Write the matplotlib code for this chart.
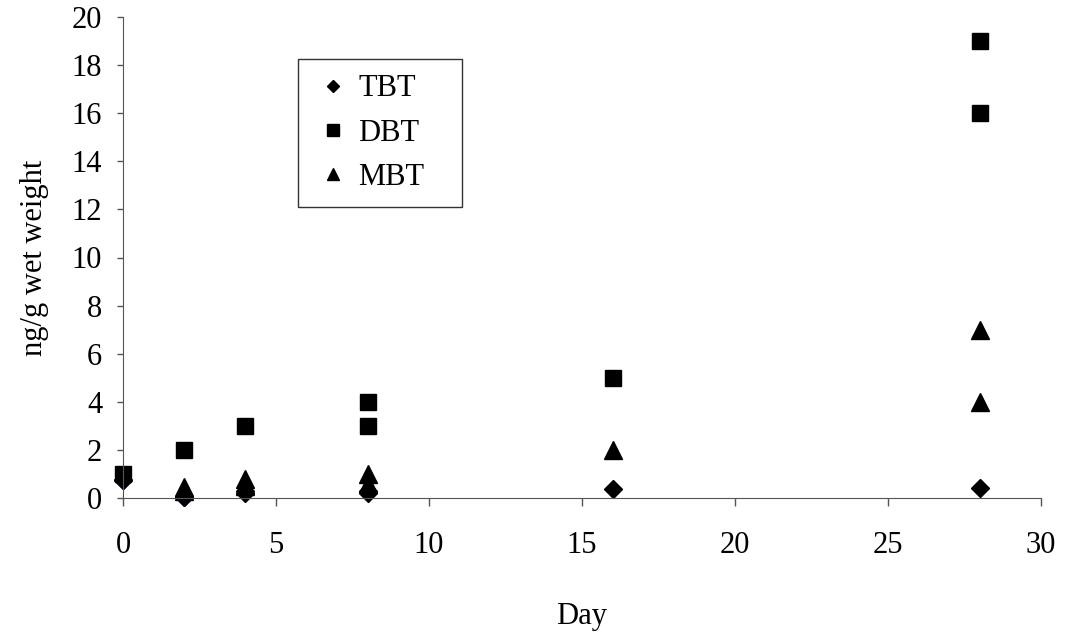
import matplotlib.pyplot as plt

plt.rcParams["font.family"] = ["Liberation Serif", "DejaVu Serif"]

tbt_day = [0, 2, 4, 4, 8, 8, 16, 28]
tbt_val = [0.75, 0.05, 0.2, 0.3, 0.2, 0.3, 0.37, 0.4]
dbt_day = [0, 2, 4, 8, 8, 16, 28, 28]
dbt_val = [1.0, 2.0, 3.0, 4.0, 3.0, 5.0, 19.0, 16.0]
mbt_day = [2, 2, 4, 4, 8, 8, 16, 28, 28]
mbt_val = [0.45, 0.3, 0.8, 0.5, 1.0, 0.6, 2.0, 7.0, 4.0]

W, H = 1065, 634
fig = plt.figure(figsize=(W / 100, H / 100), dpi=100)
ax = fig.add_axes([123 / W, 1 - 498 / H, (1041 - 123) / W, (498 - 17) / H])

ax.plot(tbt_day, tbt_val, "D", color="black", ms=9, label="TBT", clip_on=False)
ax.plot(dbt_day, dbt_val, "s", color="black", ms=12, label="DBT", clip_on=False)
ax.plot(mbt_day, mbt_val, "^", color="black", ms=13, label="MBT", clip_on=False)
# first two TBT points look navy in the original
ax.plot(tbt_day[:2], tbt_val[:2], "D", color="#000080", ms=9, clip_on=False, zorder=1.5)

ax.set_xlim(0, 30)
ax.set_ylim(0, 20)
ax.set_xticks(range(0, 31, 5))
ax.set_yticks(range(0, 21, 2))
for s in ["top", "right"]:
    ax.spines[s].set_visible(False)
for s in ["left", "bottom"]:
    ax.spines[s].set_color("#555555")
ax.tick_params(colors="#555555", labelcolor="black", labelsize=22, width=1, direction="out")
ax.tick_params(axis="x", length=6, pad=18)
ax.tick_params(axis="y", length=4, pad=11)

ax.set_xlabel("Day", fontsize=22, labelpad=30)
ax.set_ylabel("ng/g wet weight", fontsize=22, labelpad=16)

# legend box in pixels: x 298..462, top at 59
x0, x1, y0, y1 = 298, 462, 59, 207
fig_leg = fig.legend(
    *ax.get_legend_handles_labels(),
    loc="upper left", mode="expand",
    bbox_to_anchor=(x0 / W, 1 - y1 / H, (x1 - x0) / W, (y1 - y0) / H),
    fontsize=22, frameon=True, fancybox=False, edgecolor="black",
    handletextpad=0.2, handlelength=1.27, labelspacing=0.5, borderpad=0.5,
    borderaxespad=0, markerscale=0.7,
)
fig_leg.get_frame().set_linewidth(1)

fig.savefig("out.png", dpi=100)
